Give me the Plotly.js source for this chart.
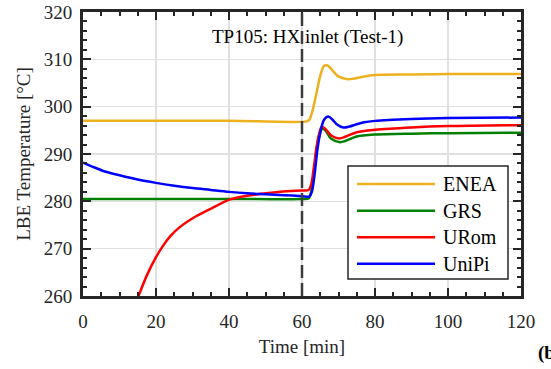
<!DOCTYPE html>
<html><head><meta charset="utf-8">
<script src="https://cdn.plot.ly/plotly-3.0.1.min.js"></script>
<style>html,body{margin:0;padding:0;background:#fff}</style>
</head><body><div id="chart" style="width:551px;height:369px"></div>
<script>
const seriesNames = ["ENEA", "GRS", "URom", "UniPi"];
const seriesColors = ["#EDB120", "#008000", "#FF0000", "#0000FF"];

const eneaT = [0, 20, 40, 61.3, 62, 63, 64, 65, 66, 67, 68, 69, 70, 72.6, 74, 76, 78, 80, 90, 100, 120];
const eneaV = [297, 297, 297, 296.9, 297.2, 299.5, 303, 306.5, 308.6, 308.7, 308.0, 307.1, 306.4, 305.8, 305.9, 306.2, 306.5, 306.7, 306.8, 306.9, 306.9];

const grsT = [0, 30, 60, 61.8, 62.5, 63.3, 64, 65, 65.6, 66.5, 68, 70.4, 72, 75, 80, 90, 100, 120];
const grsV = [280.5, 280.5, 280.5, 280.6, 282, 286, 291, 294.6, 295.4, 294.9, 293.2, 292.5, 292.8, 293.7, 294.1, 294.3, 294.4, 294.5];

const uromT = [13.5, 15.2, 17.4, 20, 22, 24, 26.6, 31.1, 35.7, 40.3, 45, 50, 55, 60, 61.8, 62.5, 63.3, 64.2, 65.4, 66.5, 68, 70.2, 72, 75, 80, 90, 100, 120];
const uromV = [256.8, 260, 264.2, 268.2, 270.7, 272.7, 274.6, 276.9, 278.7, 280.4, 281.2, 281.7, 282.1, 282.3, 282.4, 283.5, 287.5, 292.5, 295.8, 295.2, 293.9, 293.3, 293.7, 294.6, 295.1, 295.6, 295.9, 296.1];

const unipiT = [0, 3, 6, 10, 15, 20, 25, 30, 35, 40, 45, 50, 55, 60, 62, 62.7, 63.5, 64.2, 65, 66, 67.2, 68.3, 69.5, 71.3, 73, 75, 77, 80, 90, 100, 120];
const unipiV = [288.2, 287.2, 286.3, 285.5, 284.6, 283.9, 283.3, 282.8, 282.4, 282.0, 281.7, 281.5, 281.3, 281.1, 281.0, 282, 286, 290.8, 294.5, 297.2, 297.9, 297.3, 296.3, 295.6, 295.8, 296.3, 296.7, 297.0, 297.4, 297.6, 297.7];

const xTicks = [0, 20, 40, 60, 80, 100, 120];
const yTicks = [260, 270, 280, 290, 300, 310, 320];
const eventTime = 60;
const titleText = "TP105: HX inlet (Test-1)";
const panelLabel = "(b)";

const xs = [eneaT, grsT, uromT, unipiT];
const ys = [eneaV, grsV, uromV, unipiV];

const FONT = '"Liberation Serif", "Times New Roman", Times, serif';
const AX = "#262626";

const traces = seriesNames.map((n, i) => ({
  x: xs[i], y: ys[i], name: n, type: "scatter", mode: "lines",
  line: {color: seriesColors[i], width: 2.5, shape: "spline", smoothing: 0.8},
  showlegend: false, hoverinfo: "skip"
}));

const L = 83, R = 521, T = 12, B = 296;
const px2x = p => (p - L) / (R - L);
const px2y = p => (B - p) / (B - T);

const shapes = [
  {type: "line", xref: "x", yref: "paper", x0: eventTime, x1: eventTime, y0: 0, y1: 1,
   line: {color: "#3c3c3c", width: 2.5, dash: "13px,5px"}, layer: "above"},
  {type: "rect", xref: "paper", yref: "paper", x0: px2x(348), x1: px2x(508), y0: px2y(166), y1: px2y(279),
   line: {color: AX, width: 1.5}, fillcolor: "#fff", layer: "above"}
];
const annotations = [
  {xref: "paper", yref: "paper", x: px2x(307), y: px2y(37), text: titleText, showarrow: false,
   xanchor: "center", yanchor: "middle", font: {family: FONT, size: 19, color: "#000"}},
  {xref: "paper", yref: "paper", x: px2x(536), y: px2y(353), text: "<b>" + panelLabel + "</b>", showarrow: false,
   xanchor: "left", yanchor: "middle", font: {family: FONT, size: 19, color: "#000"}}
];
const rowY = [184, 210.7, 237.3, 263.7];
seriesNames.forEach((n, i) => {
  shapes.push({type: "line", xref: "paper", yref: "paper", x0: px2x(357), x1: px2x(435),
    y0: px2y(rowY[i]), y1: px2y(rowY[i]), line: {color: seriesColors[i], width: 2.5}, layer: "above"});
  annotations.push({xref: "paper", yref: "paper", x: px2x(441), y: px2y(rowY[i]), text: n,
    showarrow: false, xanchor: "left", yanchor: "middle", font: {family: FONT, size: 20, color: "#000"}});
});

const tickFont = {family: FONT, size: 19, color: AX};
const layout = {
  width: 551, height: 369,
  margin: {l: L, r: 551 - R, t: T, b: 369 - B},
  paper_bgcolor: "#fff", plot_bgcolor: "#fff",
  font: {family: FONT, size: 19, color: AX},
  showlegend: false,
  xaxis: {
    range: [0, 120], tickvals: xTicks, ticktext: xTicks.map(String), tickfont: tickFont,
    ticks: "inside", ticklen: 8, tickwidth: 2, tickcolor: AX,
    showline: true, linecolor: AX, linewidth: 3, mirror: "ticks",
    showgrid: true, gridcolor: "#e0e0e0", gridwidth: 1.5, zeroline: false,
    minor: {dtick: 5, tick0: 0, ticks: "inside", ticklen: 4, tickwidth: 2, tickcolor: AX, showgrid: false},
    ticklabelstandoff: 6,
    title: {text: "Time [min]", font: {family: FONT, size: 19, color: AX}, standoff: 9}
  },
  yaxis: {
    range: [260, 320], tickvals: yTicks, ticktext: yTicks.map(String), tickfont: tickFont,
    ticks: "inside", ticklen: 8, tickwidth: 2, tickcolor: AX,
    showline: true, linecolor: AX, linewidth: 3, mirror: "ticks",
    showgrid: true, gridcolor: "#e0e0e0", gridwidth: 1.5, zeroline: false,
    minor: {dtick: 2, tick0: 260, ticks: "inside", ticklen: 4, tickwidth: 2, tickcolor: AX, showgrid: false},
    ticklabelstandoff: 4,
    title: {text: "LBE Temperature [°C]", font: {family: FONT, size: 19, color: AX}, standoff: 9}
  },
  shapes: shapes,
  annotations: annotations
};

Plotly.newPlot("chart", traces, layout, {displayModeBar: false, staticPlot: true});
</script></body></html>
